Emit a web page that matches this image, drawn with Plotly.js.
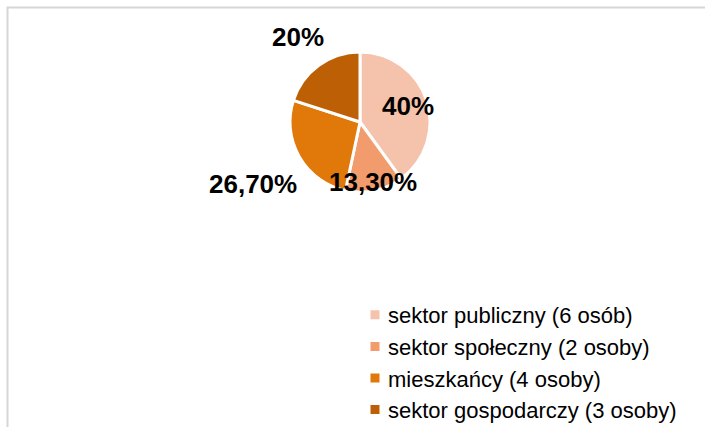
<!DOCTYPE html>
<html>
<head>
<meta charset="utf-8">
<script src="https://cdn.plot.ly/plotly-3.0.1.min.js"></script>
<style>
  html, body { margin: 0; background: #fff; overflow: hidden; }
  #chart { width: 705px; height: 445px; }
  /* kwadraty legendy bliżej tekstu */
  .legendpoints path { transform: translate(27px, 0); }
  .annotation-text { font-stretch: condensed; }
</style>
</head>
<body>
<div id="chart"></div>
<script>
// dane wykresu
const categories = [
    'sektor publiczny (6 osób)',
    'sektor społeczny (2 osoby)',
    'mieszkańcy (4 osoby)',
    'sektor gospodarczy (3 osoby)'
];
const persons = [6, 2, 4, 3];
const percentLabels = ['40%', '13,30%', '26,70%', '20%'];
const sliceColors = ['#F5C3AB', '#F29B6D', '#E0780A', '#BD6005'];

// położenie etykiet: odległość od środka jako krotność promienia
const labelDist = [0.72, 0.87, 1.76, 1.5];

const labelFont = 'Liberation Sans Narrow, Liberation Sans, Arial, sans-serif';

// wykres jest wyższy niż okno, żeby legenda mogła wyjść poza dolną krawędź
const W = 705, H = 445;
const cx = 360, cy = 122, r = 70;

const data = [{
    type: 'pie',
    labels: categories,
    values: persons,
    textinfo: 'none',
    sort: false,
    direction: 'clockwise',
    rotation: 0,
    marker: { colors: sliceColors, line: { color: '#fff', width: 3 } },
    domain: { x: [(cx - r) / W, (cx + r) / W], y: [1 - (cy + r) / H, 1 - (cy - r) / H] },
    hoverinfo: 'label+percent'
}];

// etykiety procentowe w środku kąta każdego wycinka
const total = persons.reduce((a, b) => a + b, 0);
let acc = 0;
const annotations = persons.map((v, i) => {
    const mid = (acc + v / 2) / total * 2 * Math.PI;
    acc += v;
    return {
        xref: 'paper', yref: 'paper',
        x: (cx + labelDist[i] * r * Math.sin(mid)) / W,
        y: 1 - (cy - labelDist[i] * r * Math.cos(mid)) / H,
        text: percentLabels[i],
        showarrow: false,
        xanchor: 'center', yanchor: 'middle',
        font: { family: labelFont, size: 26, color: '#000', weight: 'bold' }
    };
});

const layout = {
    width: W,
    height: H,
    margin: { l: 0, r: 0, t: 0, b: 0 },
    paper_bgcolor: '#fff',
    showlegend: true,
    legend: {
        x: 348 / W,
        xanchor: 'left',
        y: 1 - 294 / H,
        yanchor: 'top',
        font: { family: 'Liberation Sans, Arial, sans-serif', size: 22, color: '#000' },
        bgcolor: 'rgba(0,0,0,0)'
    },
    annotations: annotations,
    // ramka obszaru wykresu
    shapes: [{
        type: 'rect',
        xref: 'paper', yref: 'paper',
        x0: 7.5 / W, x1: 1.1,
        y0: -0.1, y1: 1 - 7.5 / H,
        line: { color: '#d6d6d6', width: 2 }
    }]
};

Plotly.newPlot('chart', data, layout, { displayModeBar: false, staticPlot: true });
</script>
</body>
</html>
